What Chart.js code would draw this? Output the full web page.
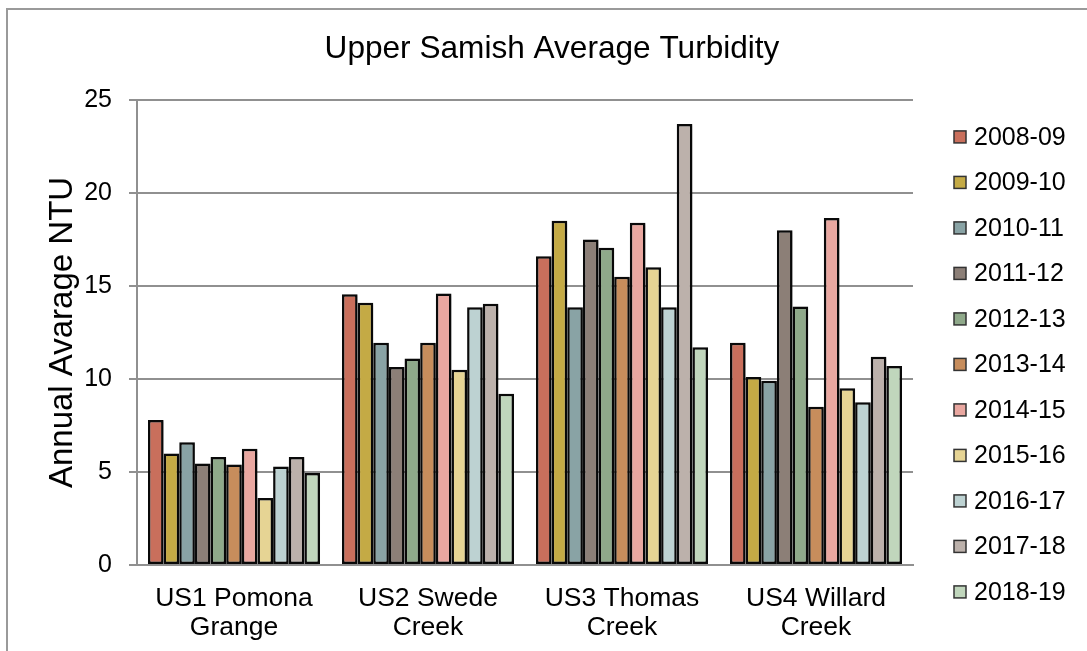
<!DOCTYPE html>
<html>
<head>
<meta charset="utf-8">
<script src="https://cdn.jsdelivr.net/npm/chart.js@4/dist/chart.umd.min.js"></script>
<style>
 html,body{margin:0;padding:0;background:#fff;}
 #wrap{position:relative;width:1087px;height:651px;}
</style>
</head>
<body>
<div id="wrap"><canvas id="canvas_turbidity"></canvas></div>
<script>
/* data */
var sites=[["US1 Pomona","Grange"],["US2 Swede","Creek"],["US3 Thomas","Creek"],["US4 Willard","Creek"]];
var seasons=["2008-09","2009-10","2010-11","2011-12","2012-13","2013-14","2014-15","2015-16","2016-17","2017-18","2018-19"];
var s2008_09=[7.8,14.55,16.6,11.95];
var s2009_10=[6.0,14.1,18.5,10.1];
var s2010_11=[6.6,11.95,13.85,9.9];
var s2011_12=[5.45,10.65,17.5,18.0];
var s2012_13=[5.8,11.1,17.05,13.9];
var s2013_14=[5.4,11.95,15.5,8.5];
var s2014_15=[6.25,14.6,18.4,18.65];
var s2015_16=[3.6,10.5,16.0,9.5];
var s2016_17=[5.3,13.85,13.85,8.75];
var s2017_18=[5.8,14.05,23.7,11.2];
var s2018_19=[4.95,9.2,11.7,10.7];
var values=[s2008_09,s2009_10,s2010_11,s2011_12,s2012_13,s2013_14,s2014_15,s2015_16,s2016_17,s2017_18,s2018_19];
var colors=["#c96f5c","#c4aa45","#89a3a5","#8c7f77","#8fa98a","#c78d5c","#e9a7a0","#e6d494","#bdd2d2","#bcb1ab","#c0d6bc"];

var font_family="'Liberation Sans', Arial, sans-serif";
var grid_color="#909090";

/* datasets */
var datasets=seasons.map(function(label,i){
 return {
  label:label,
  data:values[i],
  backgroundColor:colors[i],
  borderColor:"#0a0a0a",
  borderWidth:2.5,
  borderSkipped:false,
  categoryPercentage:0.887,
  barPercentage:1.0
 };
});

/* frame + custom legend + title shift + bar shadow */
var decor={
 id:"decor",
 beforeDraw:function(chart){
  var ctx=chart.ctx;
  ctx.save();
  ctx.fillStyle="#fff";
  ctx.fillRect(0,0,chart.width,chart.height);
  ctx.strokeStyle="#9a9a9a";
  ctx.lineWidth=2;
  ctx.strokeRect(7,9,1300,1000);
  ctx.restore();
 },
 afterLayout:function(chart){
  var t=chart.titleBlock;
  if(t){t.left+=76;t.right+=76;}
 },
 beforeDatasetsDraw:function(chart){
  var ctx=chart.ctx;
  ctx.save();
  ctx.shadowColor="rgba(0,0,0,0.28)";
  ctx.shadowBlur=3;
  ctx.shadowOffsetX=2;
  ctx.shadowOffsetY=1;
 },
 afterDatasetsDraw:function(chart){
  chart.ctx.restore();
 },
 afterDraw:function(chart){
  var ctx=chart.ctx,area=chart.chartArea;
  ctx.save();
  ctx.font="25px "+font_family;
  ctx.textBaseline="middle";
  ctx.textAlign="left";
  chart.data.datasets.forEach(function(ds,i){
   var x=area.right+41,y=area.top+37+i*45.5;
   ctx.fillStyle=ds.backgroundColor;
   ctx.fillRect(x,y-6,12,12);
   ctx.strokeStyle="#333";
   ctx.lineWidth=1.5;
   ctx.strokeRect(x,y-6,12,12);
   ctx.fillStyle="#000";
   ctx.fillText(ds.label,x+20,y+1);
  });
  ctx.restore();
 }
};

var ctx=document.getElementById("canvas_turbidity").getContext("2d");
var myChart=new Chart(ctx,{
 type:"bar",
 data:{labels:sites,datasets:datasets},
 options:{
  responsive:true,
  maintainAspectRatio:false,
  animation:false,
  layout:{padding:{left:39,right:174,top:0,bottom:0}},
  plugins:{
   legend:{display:false},
   tooltip:{enabled:false},
   title:{
    display:true,
    text:"Upper Samish Average Turbidity",
    color:"#000",
    font:{family:font_family,size:31.6,weight:"normal"},
    padding:{top:30,bottom:32}
   }
  },
  scales:{
   x:{
    grid:{display:false},
    border:{color:grid_color,width:2},
    ticks:{color:"#000",font:{family:font_family,size:26.5,lineHeight:1.1},padding:11,maxRotation:0,autoSkip:false},
    afterFit:function(scale){scale.height=86;}
   },
   y:{
    min:0,max:25,
    ticks:{stepSize:5,color:"#000",font:{family:font_family,size:25},padding:17},
    grid:{color:grid_color,lineWidth:2,tickLength:8,drawTicks:true},
    border:{color:grid_color,width:2},
    title:{display:true,text:"Annual Avarage NTU",color:"#000",font:{family:font_family,size:33,weight:"normal"},padding:{top:4,bottom:4}},
    afterFit:function(scale){scale.width=98;}
   }
  }
 },
 plugins:[decor]
});
</script>
</body>
</html>
